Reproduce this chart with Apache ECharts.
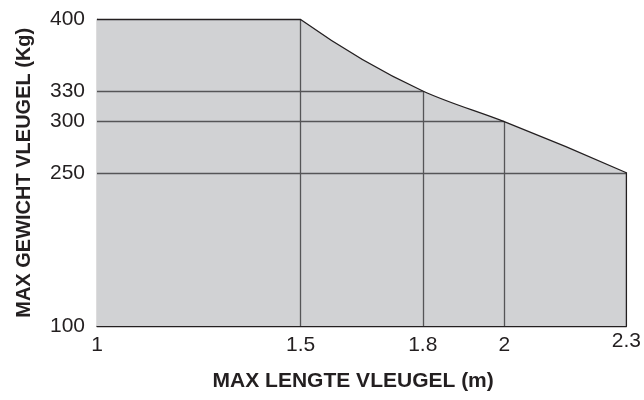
<!DOCTYPE html>
<html>
<head>
<meta charset="utf-8">
<script src="https://cdn.jsdelivr.net/npm/echarts@6/dist/echarts.min.js"></script>
<style>html,body{margin:0;padding:0;background:#fff;}#c{width:644px;height:400px;}</style>
</head>
<body>
<div id="c"></div>
<script>
// Data
const flatX = [1, 1.5];
const flatY = [400, 400];
const curveX = [1.5, 1.8, 2, 2.3];
const curveY = [400, 330, 300, 250];
const xTicks = [1, 1.5, 1.8, 2, 2.3];
const yTicks = [100, 250, 300, 330, 400];
const xName = 'MAX LENGTE VLEUGEL (m)';
const yName = 'MAX GEWICHT VLEUGEL (Kg)';
const xMin = 1, xMax = 2.3, yMin = 100, yMax = 400;

const FONT = '"Liberation Sans", Arial, Helvetica, sans-serif';
const INK = '#231f20';
const FILL = '#d1d2d4';
const GRIDC = '#555557';

// slope of the parabola through points a,b,c evaluated at xs[at]
function slope(xs, ys, idx, at) {
  const x = xs[at];
  let s = 0;
  for (let j = 0; j < 3; j++) {
    const others = idx.filter((_, q) => q !== j);
    const xj = xs[idx[j]], xk = xs[others[0]], xl = xs[others[1]];
    s += ys[idx[j]] * ((x - xk) + (x - xl)) / ((xj - xk) * (xj - xl));
  }
  return s;
}
function tangents(xs, ys) {
  const n = xs.length, m = [];
  for (let i = 0; i < n; i++) {
    let a = Math.max(0, Math.min(n - 3, i - 1));
    m.push(slope(xs, ys, [a, a + 1, a + 2], i));
  }
  return m;
}

// builds path along the top edge using the axes' scale
function topPath(api, closeFill) {
  const P = (x, y) => api.coord([x, y]);
  const m = tangents(curveX, curveY);
  let d = '';
  const start = closeFill ? P(xMin, yMin) : P(flatX[0], flatY[0]);
  d += 'M' + start[0] + ',' + start[1];
  for (let i = 0; i < flatX.length; i++) {
    const p = P(flatX[i], flatY[i]);
    d += 'L' + p[0] + ',' + p[1];
  }
  for (let i = 0; i < curveX.length - 1; i++) {
    const h = curveX[i + 1] - curveX[i];
    const c1 = P(curveX[i] + h / 3, curveY[i] + m[i] * h / 3);
    const c2 = P(curveX[i + 1] - h / 3, curveY[i + 1] - m[i + 1] * h / 3);
    const e = P(curveX[i + 1], curveY[i + 1]);
    d += 'C' + c1[0] + ',' + c1[1] + ',' + c2[0] + ',' + c2[1] + ',' + e[0] + ',' + e[1];
  }
  const last = curveX.length - 1;
  const b = P(curveX[last], yMin);
  d += 'L' + b[0] + ',' + b[1];
  if (closeFill) d += 'Z';
  return d;
}

// inner grid lines: vertical from bottom to curve, horizontal from left to curve
const gridLines = [];
for (let i = 0; i < curveX.length - 1; i++) {
  gridLines.push({ coords: [[curveX[i], yMin], [curveX[i], curveY[i]]] });
  if (i > 0) gridLines.push({ coords: [[xMin, curveY[i]], [curveX[i], curveY[i]]] });
}
const lastI = curveX.length - 1;
gridLines.push({ coords: [[xMin, curveY[lastI]], [curveX[lastI], curveY[lastI]]] });

const anchor = [[curveX[0], curveY[0]]];

const chart = echarts.init(document.getElementById('c'));
chart.setOption({
  animation: false,
  backgroundColor: '#fff',
  grid: { left: 97, right: 15, top: 19.5, bottom: 74 },
  xAxis: {
    type: 'value', min: xMin, max: xMax,
    name: xName, nameLocation: 'middle', nameGap: 45,
    nameTextStyle: { fontFamily: FONT, fontWeight: 'bold', fontSize: 21, color: INK, padding: [0, 17, 0, 0] },
    axisLine: { show: true, onZero: false, lineStyle: { color: INK, width: 1.3 } },
    axisTick: { show: false },
    splitLine: { show: false },
    axisLabel: {
      customValues: xTicks, margin: 5, fontFamily: FONT, fontSize: 21, color: INK, lineHeight: 28,
      formatter: v => (v === xMax ? '{up|' + v + '}' : String(v)),
      rich: { up: { lineHeight: 20, fontFamily: FONT, fontSize: 21, color: INK } }
    }
  },
  yAxis: {
    type: 'value', min: yMin, max: yMax,
    name: yName, nameLocation: 'middle', nameGap: 63,
    nameTextStyle: { fontFamily: FONT, fontWeight: 'bold', fontSize: 20, color: INK },
    axisLine: { show: true, lineStyle: { color: INK, width: 1.3 } },
    axisTick: { show: false },
    splitLine: { show: false },
    axisLabel: { customValues: yTicks, margin: 12, fontFamily: FONT, fontSize: 21, color: INK }
  },
  series: [
    {
      type: 'custom', z: 2, silent: true, data: anchor, encode: { x: 0, y: 1 },
      renderItem: (params, api) => params.dataIndex === 0 ? {
        type: 'path', shape: { pathData: topPath(api, true) },
        style: { fill: FILL, stroke: null }
      } : null
    },
    {
      type: 'lines', coordinateSystem: 'cartesian2d', z: 3, silent: true,
      lineStyle: { color: GRIDC, width: 1.3, opacity: 1 },
      data: gridLines
    },
    {
      type: 'custom', z: 4, silent: true, data: anchor, encode: { x: 0, y: 1 },
      renderItem: (params, api) => params.dataIndex === 0 ? {
        type: 'path', shape: { pathData: topPath(api, false) },
        style: { fill: null, stroke: INK, lineWidth: 1.3 }
      } : null
    }
  ]
});
</script>
</body>
</html>
